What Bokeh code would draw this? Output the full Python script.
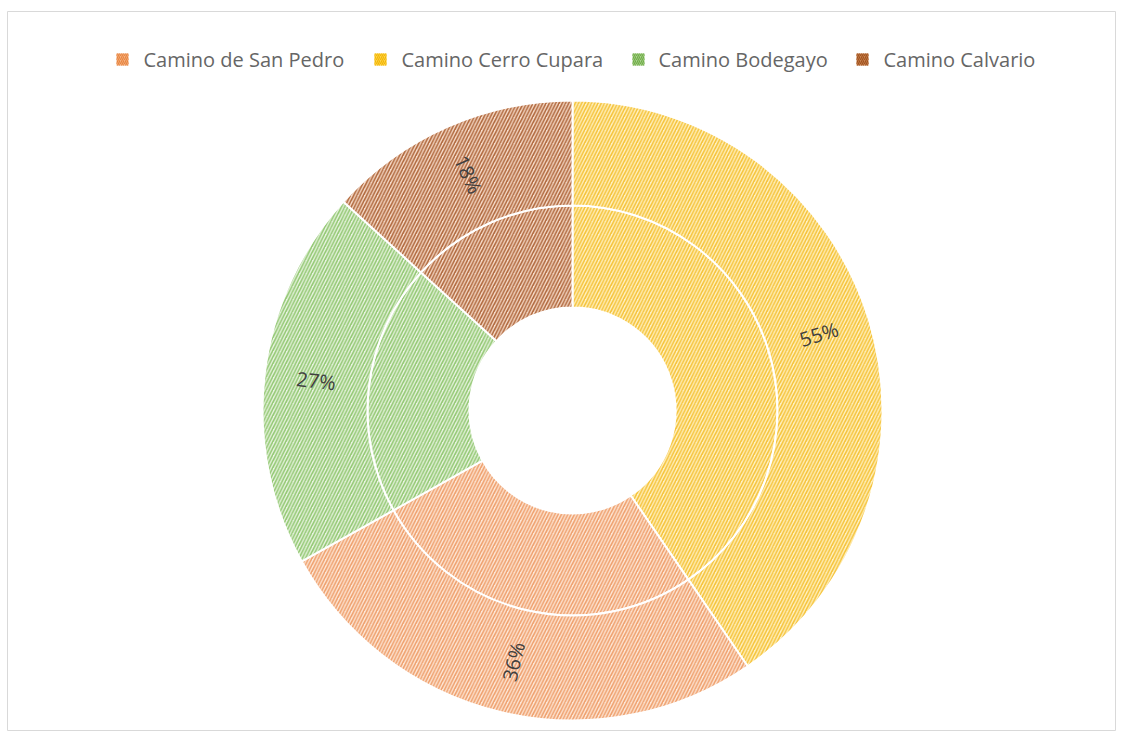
import numpy as np
from bokeh.plotting import figure
from bokeh.models import Range1d, ColumnDataSource
from bokeh.core.properties import value
from bokeh.embed import file_html
from bokeh.resources import INLINE

# ---- data ----
legend_names = ["Camino de San Pedro", "Camino Cerro Cupara", "Camino Bodegayo", "Camino Calvario"]
legend_fill = ["#F4B183", "#FFD34D", "#A9D18E", "#C98350"]
legend_hatch = ["#E8853F", "#F2B705", "#70AD47", "#A0521E"]

# drawing order, clockwise from 12 o'clock
slice_names = ["Camino Cerro Cupara", "Camino de San Pedro", "Camino Bodegayo", "Camino Calvario"]
slice_values = [55, 36, 27, 18]
slice_fill = ["#FFF1C4", "#FDE7D8", "#E8F4E0", "#F7DCCB"]
slice_hatch = ["#F5C338", "#EFA06C", "#93C873", "#B0683C"]

# ---- layout ----
W, H = 1116, 731
ML, MT = 7, 11
FW, FH = W - ML, H - MT
cx, cy = 565, 321
r_hole, r_mid, r_out = 103, 205, 310
r_lab = 258

vals = np.array(slice_values, dtype=float)
frac = vals / vals.sum()
cum = np.concatenate([[0], np.cumsum(frac)])
start = np.pi / 2 - 2 * np.pi * cum[:-1]
end = np.pi / 2 - 2 * np.pi * cum[1:]
mid = (start + end) / 2
lx = cx + r_lab * np.cos(mid)
ly = cy + r_lab * np.sin(mid)
ang = np.arctan2(np.sin(mid), np.cos(mid))
ang = np.where(ang > np.pi / 2, ang - np.pi, ang)
ang = np.where(ang < -np.pi / 2, ang + np.pi, ang)
labels = ["%d%%" % v for v in slice_values]

src = ColumnDataSource(dict(
    name=slice_names, start=start, end=end,
    fill=slice_fill, hatch=slice_hatch,
    lx=lx, ly=ly, ang=ang, lab=labels,
    x=[cx] * len(vals), y=[cy] * len(vals),
))

p = figure(width=W, height=H, output_backend="svg", toolbar_location=None,
           x_axis_type=None, y_axis_type=None,
           x_range=Range1d(0, FW), y_range=Range1d(0, FH),
           min_border_left=ML, min_border_right=0, min_border_bottom=0, min_border_top=MT,
           background_fill_color="white", border_fill_color="white")
p.outline_line_color = "#D9D9D9"
p.outline_line_width = 1

for r0, r1 in [(r_hole, r_mid), (r_mid, r_out)]:
    p.annular_wedge(x="x", y="y", inner_radius=r0, outer_radius=r1,
                    start_angle="start", end_angle="end", direction="clock",
                    fill_color="fill", hatch_color="hatch", hatch_pattern="/",
                    hatch_scale=6.5, hatch_weight=1.6,
                    line_color="white", line_width=2, source=src)

p.text(x="lx", y="ly", text="lab", angle="ang", source=src,
       text_align="center", text_baseline="middle",
       text_color="#404040", text_font=value("Open Sans"), text_font_size="20px")

# legend (manual, horizontal)
leg_y = 672
leg_marker_x = [115, 373, 631, 855]
leg_text_x = [136, 394, 651, 876]
lsrc = ColumnDataSource(dict(mx=leg_marker_x, tx=leg_text_x, y=[leg_y] * 4,
                             name=legend_names, fill=legend_fill, hatch=legend_hatch))
p.rect(x="mx", y="y", width=12, height=12, fill_color="fill", hatch_color="hatch",
       hatch_pattern="/", hatch_scale=4, hatch_weight=1.2, line_color=None, source=lsrc)
p.text(x="tx", y="y", text="name", source=lsrc, text_align="left", text_baseline="middle",
       text_color="#666666", text_font=value("Open Sans"), text_font_size="20px")

open("out.html", "w").write(file_html(p, INLINE))
